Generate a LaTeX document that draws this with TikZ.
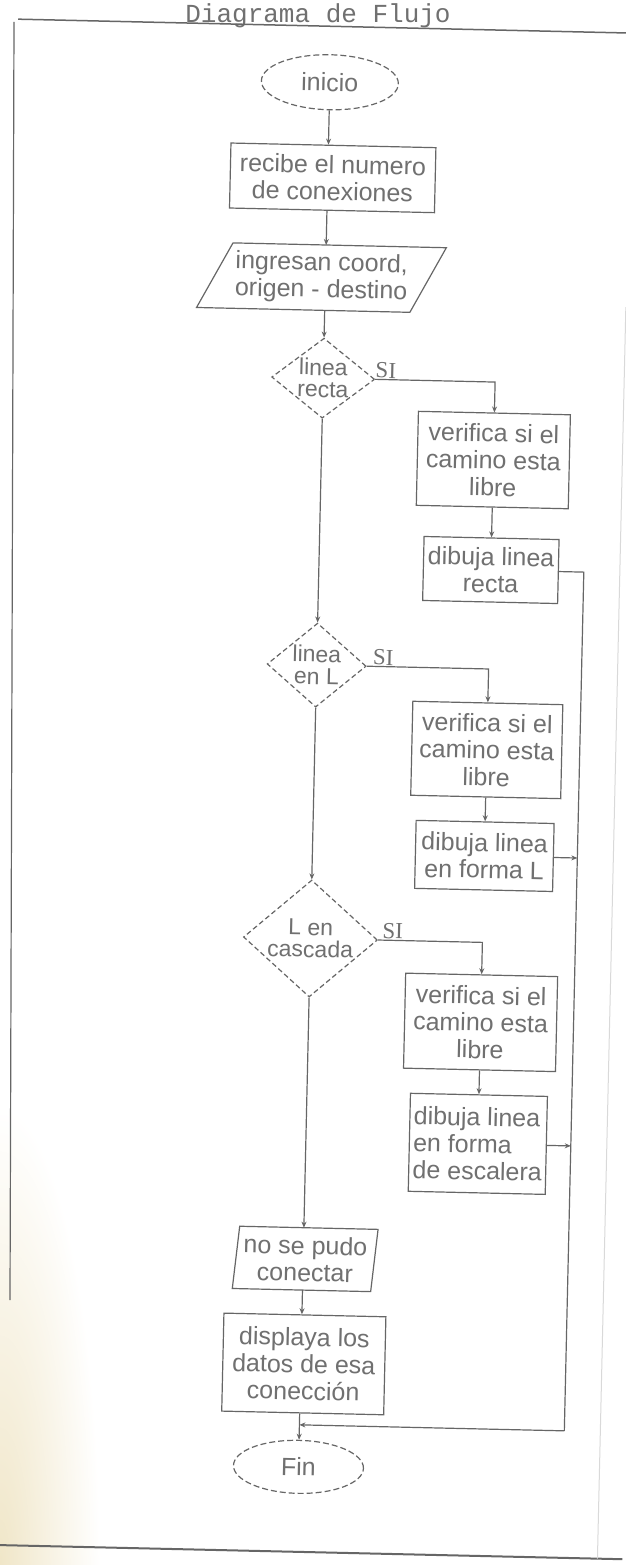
\documentclass[tikz,border=0pt]{standalone}
\usepackage{fontspec}
\setmainfont{Liberation Sans}
\newfontfamily\monof{Liberation Mono}
\newfontfamily\seriff{Liberation Serif}
\usetikzlibrary{shapes.geometric,arrows.meta,calc}
\definecolor{ink}{gray}{0.40}
\definecolor{txt}{gray}{0.44}
\definecolor{paper}{RGB}{240,230,200}
\begin{document}
\begin{tikzpicture}[x=1pt,y=-1pt,
  every node/.style={text=txt, font=\fontsize{25}{27}\selectfont, align=center},
  box/.style={draw=ink, line width=1.2pt, rectangle, inner sep=0pt},
  term/.style={draw=ink, line width=1.2pt, ellipse, dash pattern=on 6pt off 3pt, inner sep=0pt},
  dia/.style={draw=ink, line width=1.2pt, diamond, dash pattern=on 5pt off 3pt, inner sep=0pt},
  dtxt/.style={inner sep=0pt, font=\fontsize{23}{22}\selectfont},
  ln/.style={draw=ink, line width=1.2pt},
  arr/.style={ln, -{Stealth[length=6pt,width=5pt]}},
  silab/.style={font=\seriff\fontsize{23}{23}\selectfont, anchor=south west, inner sep=0pt}
]
\useasboundingbox (0,0) rectangle (625,1565);
\fill[white] (0,0) rectangle (625,1565);
\shade[inner color=paper, outer color=white] (0,1565) ellipse (100 and 460);
% left edge of the page frame
\draw[ink, line width=1.2pt] (14,22) -- (10,1300);
% title
\node[font=\monof\fontsize{26}{26}\selectfont, anchor=base, inner sep=0pt] (title) at (318,23) {Diagrama de Flujo};
\begin{scope}[rotate around={-1.3:(312,782)}, transform shape]
  % page frame
  \draw[ink, line width=1.5pt] (1,26) -- (640,26);
  \draw[ink, line width=2pt] (-20,1552) -- (640,1552);
  \draw[black!15, line width=1pt] (615,300) -- (615,1552);

  \node[term, minimum width=137pt, minimum height=55pt] (ini) at (314,82) {inicio};
  \node[box, minimum width=205pt, minimum height=65pt] (rec) at (319,177.5) {recibe el numero\\de conexiones};
  \node[minimum width=213pt, minimum height=65pt, inner sep=0pt] (ing) at (310,277.5) {ingresan coord,\\origen - destino};
  \draw[ln] ([xshift=-17.5pt]ing.south west) -- ([xshift=-17.5pt]ing.south east) -- ([xshift=17.5pt]ing.north east) -- ([xshift=17.5pt]ing.north west) -- cycle;

  \node[dia, minimum width=103pt, minimum height=80pt] (d1) at (314,378) {};
  \node[dtxt] (d1t) at (d1) {linea\\recta};
  \node[box, minimum width=152pt, minimum height=94pt] (v1) at (486,456) {verifica si el\\camino esta\\libre};
  \node[box, minimum width=135pt, minimum height=64pt] (b1) at (486,566) {dibuja linea\\recta};

  \node[dia, minimum width=99pt, minimum height=84pt] (d2) at (314,665) {};
  \node[dtxt] (d2t) at (d2) {linea\\en L};
  \node[box, minimum width=150pt, minimum height=94pt] (v2) at (486,746) {verifica si el\\camino esta\\libre};
  \node[box, minimum width=138pt, minimum height=68pt] (b2) at (486,852) {dibuja linea\\en forma L};

  \node[dia, minimum width=134pt, minimum height=117pt] (d3) at (314,938.5) {};
  \node[dtxt] (d3t) at (d3) {L en\\cascada};
  \node[box, minimum width=152pt, minimum height=95pt] (v3) at (486,1018.5) {verifica si el\\camino esta\\libre};
  \node[box, minimum width=137pt, minimum height=98pt, align=left] (b3) at (486,1140) {dibuja linea\\en forma\\de escalera};

  \node[minimum width=138pt, minimum height=62pt, inner sep=0pt] (nsp) at (316,1259) {no se pudo\\conectar};
  \draw[ln] ([xshift=-3pt]nsp.south west) -- ([xshift=-3pt]nsp.south east) -- ([xshift=3pt]nsp.north east) -- ([xshift=3pt]nsp.north west) -- cycle;
  \node[box, minimum width=162pt, minimum height=98pt] (disp) at (317,1364) {displaya los\\datos de esa\\conección};
  \node[term, minimum width=130pt, minimum height=53pt] (fin) at (314,1467) {Fin};

  % connectors
  \draw[arr] (ini.south) -- (ini.south |- rec.north);
  \draw[arr] (rec.south -| ini.south) -- (ing.north -| ini.south);
  \draw[arr] (ing.south -| d1.north) -- (d1.north);
  \draw[arr] (d1.east) -| (v1.north);
  \node[silab] (si1) at ([yshift=1pt]d1.east) {SI};
  \draw[arr] (v1.south) -- (b1.north);
  \draw[arr] (d1.south) -- (d2.north);
  \draw[arr] (d2.east) -| (v2.north);
  \node[silab] (si2) at ([xshift=6pt,yshift=1pt]d2.east) {SI};
  \draw[arr] (v2.south) -- (b2.north);
  \draw[arr] (d2.south) -- (d3.north);
  \draw[arr] (d3.east) -| (v3.north);
  \node[silab] (si3) at ([xshift=4pt,yshift=1pt]d3.east) {SI};
  \draw[arr] (v3.south) -- (b3.north);
  \draw[arr] (d3.south) -- (d3.south |- nsp.north);
  \draw[arr] (nsp.south -| d3.south) -- (disp.north -| d3.south);
  \draw[arr] (disp.south -| fin.north) -- (fin.north);
  \coordinate (rt) at (579,566);
  \coordinate (rb) at (579,1425);
  \coordinate (mg) at (314,1425);
  \draw[ln] (b1.east) -- (rt) -- (rb);
  \draw[arr] (rb) -- (mg);
  \draw[arr] (b2.east) -- (b2.east -| rt);
  \draw[arr] (b3.east) -- (b3.east -| rt);
\end{scope}
\end{tikzpicture}
\end{document}
